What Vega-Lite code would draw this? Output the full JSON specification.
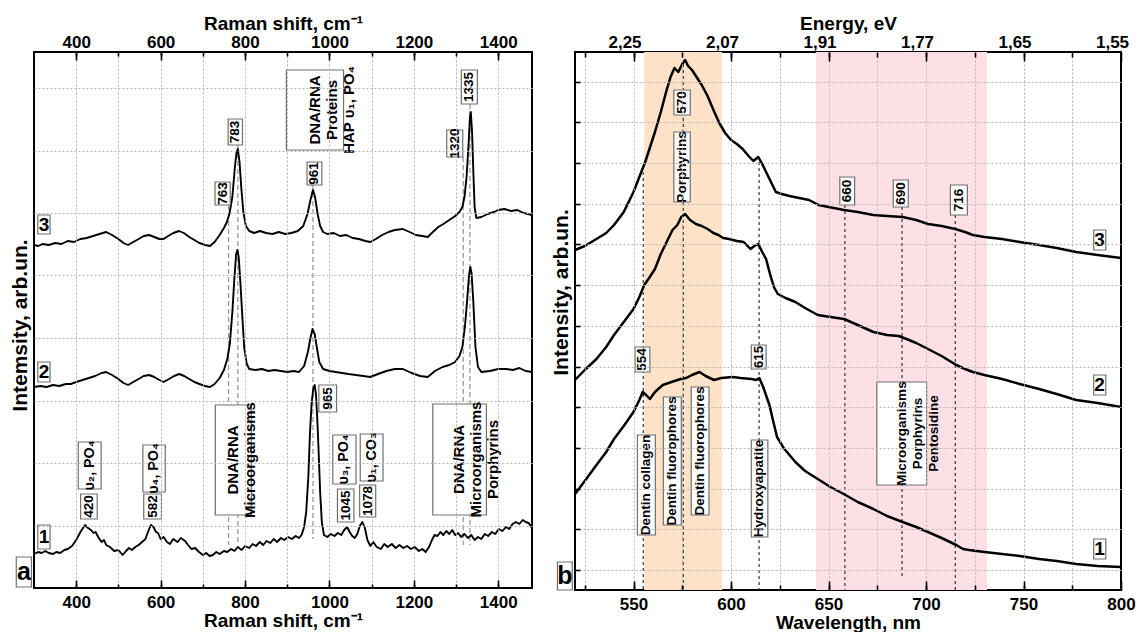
{
  "$schema": "https://vega.github.io/schema/vega-lite/v6.json",
  "background": "white",
  "padding": {"left": 7, "top": 13, "right": 5, "bottom": 0},
  "autosize": {"type": "pad"},
  "config": {
    "font": "Liberation Sans",
    "view": {"stroke": "black", "strokeWidth": 2},
    "axis": {
      "labelFont": "Liberation Sans", "labelFontWeight": "bold", "labelFontSize": 17, "labelColor": "black",
      "titleFont": "Liberation Sans", "titleFontWeight": "bold", "titleFontSize": 19, "titleColor": "black",
      "tickColor": "black", "tickWidth": 1.6, "domain": false, "labelOverlap": false, "labelFlush": false,
      "gridColor": "#b5b5b5", "gridDash": [2, 2], "gridWidth": 1
    },
    "text": {"font": "Liberation Sans", "fontWeight": "bold", "color": "black"}
  },
  "datasets": {
    "ramanCurves": [
      {"shift":300,"intensity":343,"spectrum":"3"},{"shift":310,"intensity":342,"spectrum":"3"},{"shift":320,"intensity":344,"spectrum":"3"},{"shift":335,"intensity":343,"spectrum":"3"},{"shift":350,"intensity":345,"spectrum":"3"},{"shift":365,"intensity":344,"spectrum":"3"},{"shift":380,"intensity":347,"spectrum":"3"},{"shift":395,"intensity":346,"spectrum":"3"},{"shift":410,"intensity":349,"spectrum":"3"},{"shift":425,"intensity":350,"spectrum":"3"},{"shift":440,"intensity":352,"spectrum":"3"},{"shift":455,"intensity":354,"spectrum":"3"},{"shift":471,"intensity":356,"spectrum":"3"},{"shift":485,"intensity":353,"spectrum":"3"},{"shift":500,"intensity":349,"spectrum":"3"},{"shift":512,"intensity":345,"spectrum":"3"},{"shift":523,"intensity":343,"spectrum":"3"},{"shift":535,"intensity":346,"spectrum":"3"},{"shift":548,"intensity":349,"spectrum":"3"},{"shift":560,"intensity":352,"spectrum":"3"},{"shift":573,"intensity":353,"spectrum":"3"},{"shift":585,"intensity":351,"spectrum":"3"},{"shift":597,"intensity":349,"spectrum":"3"},{"shift":607,"intensity":349,"spectrum":"3"},{"shift":618,"intensity":352,"spectrum":"3"},{"shift":630,"intensity":355,"spectrum":"3"},{"shift":644,"intensity":357,"spectrum":"3"},{"shift":655,"intensity":355,"spectrum":"3"},{"shift":668,"intensity":351,"spectrum":"3"},{"shift":680,"intensity":348,"spectrum":"3"},{"shift":692,"intensity":345,"spectrum":"3"},{"shift":705,"intensity":343,"spectrum":"3"},{"shift":717,"intensity":342,"spectrum":"3"},{"shift":728,"intensity":346,"spectrum":"3"},{"shift":740,"intensity":353,"spectrum":"3"},{"shift":750,"intensity":360,"spectrum":"3"},{"shift":757,"intensity":366,"spectrum":"3"},{"shift":763,"intensity":374,"spectrum":"3"},{"shift":770,"intensity":391,"spectrum":"3"},{"shift":776,"intensity":421,"spectrum":"3"},{"shift":780,"intensity":436,"spectrum":"3"},{"shift":783,"intensity":439,"spectrum":"3"},{"shift":787,"intensity":426,"spectrum":"3"},{"shift":791,"intensity":401,"spectrum":"3"},{"shift":796,"intensity":376,"spectrum":"3"},{"shift":802,"intensity":362,"spectrum":"3"},{"shift":810,"intensity":357,"spectrum":"3"},{"shift":822,"intensity":355,"spectrum":"3"},{"shift":835,"intensity":357,"spectrum":"3"},{"shift":850,"intensity":355,"spectrum":"3"},{"shift":865,"intensity":354,"spectrum":"3"},{"shift":880,"intensity":356,"spectrum":"3"},{"shift":895,"intensity":354,"spectrum":"3"},{"shift":910,"intensity":355,"spectrum":"3"},{"shift":925,"intensity":357,"spectrum":"3"},{"shift":938,"intensity":362,"spectrum":"3"},{"shift":948,"intensity":374,"spectrum":"3"},{"shift":955,"intensity":388,"spectrum":"3"},{"shift":961,"intensity":398,"spectrum":"3"},{"shift":966,"intensity":391,"spectrum":"3"},{"shift":972,"intensity":374,"spectrum":"3"},{"shift":978,"intensity":362,"spectrum":"3"},{"shift":985,"intensity":356,"spectrum":"3"},{"shift":995,"intensity":354,"spectrum":"3"},{"shift":1010,"intensity":355,"spectrum":"3"},{"shift":1025,"intensity":352,"spectrum":"3"},{"shift":1040,"intensity":353,"spectrum":"3"},{"shift":1055,"intensity":350,"spectrum":"3"},{"shift":1070,"intensity":349,"spectrum":"3"},{"shift":1085,"intensity":347,"spectrum":"3"},{"shift":1097,"intensity":346,"spectrum":"3"},{"shift":1110,"intensity":349,"spectrum":"3"},{"shift":1125,"intensity":353,"spectrum":"3"},{"shift":1140,"intensity":356,"spectrum":"3"},{"shift":1155,"intensity":358,"spectrum":"3"},{"shift":1174,"intensity":359,"spectrum":"3"},{"shift":1190,"intensity":356,"spectrum":"3"},{"shift":1205,"intensity":353,"spectrum":"3"},{"shift":1220,"intensity":352,"spectrum":"3"},{"shift":1233,"intensity":351,"spectrum":"3"},{"shift":1245,"intensity":356,"spectrum":"3"},{"shift":1258,"intensity":361,"spectrum":"3"},{"shift":1270,"intensity":364,"spectrum":"3"},{"shift":1284,"intensity":368,"spectrum":"3"},{"shift":1298,"intensity":372,"spectrum":"3"},{"shift":1308,"intensity":376,"spectrum":"3"},{"shift":1315,"intensity":381,"spectrum":"3"},{"shift":1320,"intensity":391,"spectrum":"3"},{"shift":1325,"intensity":411,"spectrum":"3"},{"shift":1330,"intensity":446,"spectrum":"3"},{"shift":1333,"intensity":471,"spectrum":"3"},{"shift":1335,"intensity":476,"spectrum":"3"},{"shift":1338,"intensity":456,"spectrum":"3"},{"shift":1341,"intensity":416,"spectrum":"3"},{"shift":1344,"intensity":381,"spectrum":"3"},{"shift":1348,"intensity":370,"spectrum":"3"},{"shift":1360,"intensity":371,"spectrum":"3"},{"shift":1375,"intensity":374,"spectrum":"3"},{"shift":1390,"intensity":376,"spectrum":"3"},{"shift":1400,"intensity":378,"spectrum":"3"},{"shift":1415,"intensity":379,"spectrum":"3"},{"shift":1430,"intensity":377,"spectrum":"3"},{"shift":1445,"intensity":378,"spectrum":"3"},{"shift":1460,"intensity":375,"spectrum":"3"},{"shift":1470,"intensity":374,"spectrum":"3"},{"shift":1480,"intensity":373,"spectrum":"3"},
      {"shift":300,"intensity":201,"spectrum":"2"},{"shift":315,"intensity":202,"spectrum":"2"},{"shift":330,"intensity":201,"spectrum":"2"},{"shift":345,"intensity":203,"spectrum":"2"},{"shift":360,"intensity":202,"spectrum":"2"},{"shift":375,"intensity":204,"spectrum":"2"},{"shift":387,"intensity":204,"spectrum":"2"},{"shift":400,"intensity":206,"spectrum":"2"},{"shift":415,"intensity":208,"spectrum":"2"},{"shift":430,"intensity":210,"spectrum":"2"},{"shift":445,"intensity":212,"spectrum":"2"},{"shift":460,"intensity":215,"spectrum":"2"},{"shift":471,"intensity":216,"spectrum":"2"},{"shift":485,"intensity":213,"spectrum":"2"},{"shift":500,"intensity":209,"spectrum":"2"},{"shift":512,"intensity":205,"spectrum":"2"},{"shift":523,"intensity":203,"spectrum":"2"},{"shift":535,"intensity":206,"spectrum":"2"},{"shift":548,"intensity":209,"spectrum":"2"},{"shift":560,"intensity":212,"spectrum":"2"},{"shift":573,"intensity":213,"spectrum":"2"},{"shift":585,"intensity":211,"spectrum":"2"},{"shift":597,"intensity":208,"spectrum":"2"},{"shift":607,"intensity":206,"spectrum":"2"},{"shift":620,"intensity":209,"spectrum":"2"},{"shift":632,"intensity":212,"spectrum":"2"},{"shift":644,"intensity":214,"spectrum":"2"},{"shift":656,"intensity":212,"spectrum":"2"},{"shift":668,"intensity":209,"spectrum":"2"},{"shift":680,"intensity":206,"spectrum":"2"},{"shift":692,"intensity":204,"spectrum":"2"},{"shift":705,"intensity":202,"spectrum":"2"},{"shift":717,"intensity":201,"spectrum":"2"},{"shift":728,"intensity":204,"spectrum":"2"},{"shift":740,"intensity":210,"spectrum":"2"},{"shift":750,"intensity":218,"spectrum":"2"},{"shift":758,"intensity":229,"spectrum":"2"},{"shift":764,"intensity":244,"spectrum":"2"},{"shift":770,"intensity":276,"spectrum":"2"},{"shift":775,"intensity":311,"spectrum":"2"},{"shift":779,"intensity":334,"spectrum":"2"},{"shift":782,"intensity":338,"spectrum":"2"},{"shift":785,"intensity":331,"spectrum":"2"},{"shift":789,"intensity":306,"spectrum":"2"},{"shift":793,"intensity":276,"spectrum":"2"},{"shift":798,"intensity":241,"spectrum":"2"},{"shift":804,"intensity":224,"spectrum":"2"},{"shift":810,"intensity":219,"spectrum":"2"},{"shift":825,"intensity":218,"spectrum":"2"},{"shift":840,"intensity":219,"spectrum":"2"},{"shift":855,"intensity":217,"spectrum":"2"},{"shift":870,"intensity":218,"spectrum":"2"},{"shift":885,"intensity":217,"spectrum":"2"},{"shift":900,"intensity":216,"spectrum":"2"},{"shift":915,"intensity":217,"spectrum":"2"},{"shift":928,"intensity":216,"spectrum":"2"},{"shift":940,"intensity":222,"spectrum":"2"},{"shift":949,"intensity":236,"spectrum":"2"},{"shift":955,"intensity":250,"spectrum":"2"},{"shift":960,"intensity":259,"spectrum":"2"},{"shift":965,"intensity":254,"spectrum":"2"},{"shift":970,"intensity":241,"spectrum":"2"},{"shift":976,"intensity":226,"spectrum":"2"},{"shift":985,"intensity":219,"spectrum":"2"},{"shift":1000,"intensity":217,"spectrum":"2"},{"shift":1015,"intensity":216,"spectrum":"2"},{"shift":1030,"intensity":215,"spectrum":"2"},{"shift":1045,"intensity":214,"spectrum":"2"},{"shift":1063,"intensity":213,"spectrum":"2"},{"shift":1080,"intensity":212,"spectrum":"2"},{"shift":1097,"intensity":211,"spectrum":"2"},{"shift":1115,"intensity":214,"spectrum":"2"},{"shift":1135,"intensity":217,"spectrum":"2"},{"shift":1155,"intensity":219,"spectrum":"2"},{"shift":1174,"intensity":219,"spectrum":"2"},{"shift":1195,"intensity":215,"spectrum":"2"},{"shift":1215,"intensity":212,"spectrum":"2"},{"shift":1233,"intensity":211,"spectrum":"2"},{"shift":1250,"intensity":217,"spectrum":"2"},{"shift":1268,"intensity":221,"spectrum":"2"},{"shift":1284,"intensity":223,"spectrum":"2"},{"shift":1298,"intensity":226,"spectrum":"2"},{"shift":1308,"intensity":232,"spectrum":"2"},{"shift":1315,"intensity":241,"spectrum":"2"},{"shift":1321,"intensity":261,"spectrum":"2"},{"shift":1326,"intensity":286,"spectrum":"2"},{"shift":1331,"intensity":314,"spectrum":"2"},{"shift":1334,"intensity":321,"spectrum":"2"},{"shift":1337,"intensity":314,"spectrum":"2"},{"shift":1341,"intensity":286,"spectrum":"2"},{"shift":1346,"intensity":241,"spectrum":"2"},{"shift":1352,"intensity":221,"spectrum":"2"},{"shift":1360,"intensity":216,"spectrum":"2"},{"shift":1380,"intensity":217,"spectrum":"2"},{"shift":1400,"intensity":219,"spectrum":"2"},{"shift":1418,"intensity":219,"spectrum":"2"},{"shift":1435,"intensity":218,"spectrum":"2"},{"shift":1450,"intensity":220,"spectrum":"2"},{"shift":1465,"intensity":217,"spectrum":"2"},{"shift":1480,"intensity":216,"spectrum":"2"},
      {"shift":300,"intensity":34,"spectrum":"1"},{"shift":310,"intensity":36,"spectrum":"1"},{"shift":318,"intensity":35,"spectrum":"1"},{"shift":327,"intensity":37,"spectrum":"1"},{"shift":335,"intensity":35,"spectrum":"1"},{"shift":345,"intensity":34,"spectrum":"1"},{"shift":353,"intensity":36,"spectrum":"1"},{"shift":362,"intensity":35,"spectrum":"1"},{"shift":372,"intensity":38,"spectrum":"1"},{"shift":380,"intensity":39,"spectrum":"1"},{"shift":390,"intensity":42,"spectrum":"1"},{"shift":400,"intensity":48,"spectrum":"1"},{"shift":410,"intensity":56,"spectrum":"1"},{"shift":416,"intensity":60,"spectrum":"1"},{"shift":421,"intensity":63,"spectrum":"1"},{"shift":428,"intensity":60,"spectrum":"1"},{"shift":435,"intensity":58,"spectrum":"1"},{"shift":441,"intensity":55,"spectrum":"1"},{"shift":446,"intensity":56,"spectrum":"1"},{"shift":452,"intensity":51,"spectrum":"1"},{"shift":460,"intensity":46,"spectrum":"1"},{"shift":466,"intensity":48,"spectrum":"1"},{"shift":471,"intensity":43,"spectrum":"1"},{"shift":480,"intensity":41,"spectrum":"1"},{"shift":490,"intensity":37,"spectrum":"1"},{"shift":500,"intensity":38,"spectrum":"1"},{"shift":510,"intensity":33,"spectrum":"1"},{"shift":518,"intensity":37,"spectrum":"1"},{"shift":525,"intensity":40,"spectrum":"1"},{"shift":532,"intensity":38,"spectrum":"1"},{"shift":540,"intensity":41,"spectrum":"1"},{"shift":548,"intensity":43,"spectrum":"1"},{"shift":556,"intensity":46,"spectrum":"1"},{"shift":564,"intensity":49,"spectrum":"1"},{"shift":570,"intensity":56,"spectrum":"1"},{"shift":577,"intensity":63,"spectrum":"1"},{"shift":583,"intensity":61,"spectrum":"1"},{"shift":589,"intensity":56,"spectrum":"1"},{"shift":594,"intensity":55,"spectrum":"1"},{"shift":600,"intensity":49,"spectrum":"1"},{"shift":607,"intensity":51,"spectrum":"1"},{"shift":615,"intensity":46,"spectrum":"1"},{"shift":622,"intensity":44,"spectrum":"1"},{"shift":630,"intensity":49,"spectrum":"1"},{"shift":640,"intensity":46,"spectrum":"1"},{"shift":648,"intensity":50,"spectrum":"1"},{"shift":658,"intensity":47,"spectrum":"1"},{"shift":665,"intensity":43,"spectrum":"1"},{"shift":673,"intensity":39,"spectrum":"1"},{"shift":682,"intensity":40,"spectrum":"1"},{"shift":691,"intensity":36,"spectrum":"1"},{"shift":700,"intensity":33,"spectrum":"1"},{"shift":708,"intensity":35,"spectrum":"1"},{"shift":716,"intensity":32,"spectrum":"1"},{"shift":724,"intensity":33,"spectrum":"1"},{"shift":732,"intensity":36,"spectrum":"1"},{"shift":740,"intensity":34,"spectrum":"1"},{"shift":750,"intensity":37,"spectrum":"1"},{"shift":758,"intensity":36,"spectrum":"1"},{"shift":767,"intensity":39,"spectrum":"1"},{"shift":775,"intensity":37,"spectrum":"1"},{"shift":783,"intensity":41,"spectrum":"1"},{"shift":792,"intensity":38,"spectrum":"1"},{"shift":800,"intensity":42,"spectrum":"1"},{"shift":810,"intensity":40,"spectrum":"1"},{"shift":818,"intensity":44,"spectrum":"1"},{"shift":826,"intensity":42,"spectrum":"1"},{"shift":835,"intensity":46,"spectrum":"1"},{"shift":843,"intensity":43,"spectrum":"1"},{"shift":851,"intensity":47,"spectrum":"1"},{"shift":860,"intensity":45,"spectrum":"1"},{"shift":868,"intensity":49,"spectrum":"1"},{"shift":876,"intensity":46,"spectrum":"1"},{"shift":885,"intensity":50,"spectrum":"1"},{"shift":893,"intensity":48,"spectrum":"1"},{"shift":902,"intensity":51,"spectrum":"1"},{"shift":911,"intensity":49,"spectrum":"1"},{"shift":920,"intensity":52,"spectrum":"1"},{"shift":928,"intensity":50,"spectrum":"1"},{"shift":934,"intensity":53,"spectrum":"1"},{"shift":940,"intensity":61,"spectrum":"1"},{"shift":945,"intensity":76,"spectrum":"1"},{"shift":950,"intensity":111,"spectrum":"1"},{"shift":954,"intensity":156,"spectrum":"1"},{"shift":958,"intensity":186,"spectrum":"1"},{"shift":962,"intensity":200,"spectrum":"1"},{"shift":965,"intensity":203,"spectrum":"1"},{"shift":968,"intensity":194,"spectrum":"1"},{"shift":971,"intensity":171,"spectrum":"1"},{"shift":974,"intensity":141,"spectrum":"1"},{"shift":978,"intensity":96,"spectrum":"1"},{"shift":982,"intensity":66,"spectrum":"1"},{"shift":987,"intensity":53,"spectrum":"1"},{"shift":995,"intensity":51,"spectrum":"1"},{"shift":1003,"intensity":54,"spectrum":"1"},{"shift":1012,"intensity":52,"spectrum":"1"},{"shift":1020,"intensity":55,"spectrum":"1"},{"shift":1028,"intensity":53,"spectrum":"1"},{"shift":1035,"intensity":58,"spectrum":"1"},{"shift":1042,"intensity":61,"spectrum":"1"},{"shift":1048,"intensity":56,"spectrum":"1"},{"shift":1054,"intensity":52,"spectrum":"1"},{"shift":1060,"intensity":50,"spectrum":"1"},{"shift":1066,"intensity":54,"spectrum":"1"},{"shift":1072,"intensity":62,"spectrum":"1"},{"shift":1078,"intensity":66,"spectrum":"1"},{"shift":1084,"intensity":60,"spectrum":"1"},{"shift":1090,"intensity":48,"spectrum":"1"},{"shift":1097,"intensity":42,"spectrum":"1"},{"shift":1104,"intensity":46,"spectrum":"1"},{"shift":1112,"intensity":41,"spectrum":"1"},{"shift":1122,"intensity":39,"spectrum":"1"},{"shift":1130,"intensity":44,"spectrum":"1"},{"shift":1138,"intensity":41,"spectrum":"1"},{"shift":1148,"intensity":44,"spectrum":"1"},{"shift":1157,"intensity":40,"spectrum":"1"},{"shift":1166,"intensity":43,"spectrum":"1"},{"shift":1175,"intensity":40,"spectrum":"1"},{"shift":1184,"intensity":42,"spectrum":"1"},{"shift":1193,"intensity":39,"spectrum":"1"},{"shift":1202,"intensity":41,"spectrum":"1"},{"shift":1212,"intensity":37,"spectrum":"1"},{"shift":1220,"intensity":39,"spectrum":"1"},{"shift":1228,"intensity":36,"spectrum":"1"},{"shift":1236,"intensity":41,"spectrum":"1"},{"shift":1243,"intensity":48,"spectrum":"1"},{"shift":1249,"intensity":53,"spectrum":"1"},{"shift":1256,"intensity":52,"spectrum":"1"},{"shift":1263,"intensity":56,"spectrum":"1"},{"shift":1270,"intensity":53,"spectrum":"1"},{"shift":1277,"intensity":57,"spectrum":"1"},{"shift":1284,"intensity":54,"spectrum":"1"},{"shift":1291,"intensity":58,"spectrum":"1"},{"shift":1298,"intensity":53,"spectrum":"1"},{"shift":1305,"intensity":55,"spectrum":"1"},{"shift":1312,"intensity":51,"spectrum":"1"},{"shift":1320,"intensity":54,"spectrum":"1"},{"shift":1328,"intensity":50,"spectrum":"1"},{"shift":1336,"intensity":53,"spectrum":"1"},{"shift":1344,"intensity":48,"spectrum":"1"},{"shift":1352,"intensity":51,"spectrum":"1"},{"shift":1360,"intensity":49,"spectrum":"1"},{"shift":1368,"intensity":54,"spectrum":"1"},{"shift":1376,"intensity":52,"spectrum":"1"},{"shift":1385,"intensity":56,"spectrum":"1"},{"shift":1393,"intensity":54,"spectrum":"1"},{"shift":1401,"intensity":59,"spectrum":"1"},{"shift":1410,"intensity":57,"spectrum":"1"},{"shift":1418,"intensity":61,"spectrum":"1"},{"shift":1426,"intensity":59,"spectrum":"1"},{"shift":1434,"intensity":64,"spectrum":"1"},{"shift":1442,"intensity":66,"spectrum":"1"},{"shift":1450,"intensity":64,"spectrum":"1"},{"shift":1458,"intensity":68,"spectrum":"1"},{"shift":1465,"intensity":66,"spectrum":"1"},{"shift":1472,"intensity":65,"spectrum":"1"},{"shift":1480,"intensity":60,"spectrum":"1"}
    ],
    "ramanMarkers": [
      {"shift":761,"top":383,"bottom":43},{"shift":783,"top":443,"bottom":43},{"shift":961,"top":403,"bottom":49},{"shift":1317,"top":431,"bottom":43},{"shift":1333,"top":484,"bottom":43}
    ],
    "ramanTags": [
      {"text":"763","kind":"peak","cx":747,"cy":394.5,"x1":729,"x2":765,"y1":383,"y2":406},
      {"text":"783","kind":"peak","cx":777,"cy":456,"x1":760,"x2":794,"y1":443,"y2":469},
      {"text":"961","kind":"peak","cx":964.5,"cy":414.5,"x1":947,"x2":982,"y1":403,"y2":426},
      {"text":"1320","kind":"peak","cx":1297,"cy":444.5,"x1":1278,"x2":1316,"y1":431,"y2":458},
      {"text":"1335","kind":"peak","cx":1331.5,"cy":501,"x1":1312.5,"x2":1350.6,"y1":484,"y2":518},
      {"text":"DNA/RNA\nProteins\nHAP υ₁, PO₄","kind":"assignment","cx":965.7,"cy":478,"x1":898,"x2":1033.5,"y1":438,"y2":518},
      {"text":"965","kind":"peak","cx":996,"cy":189.5,"x1":975,"x2":1017,"y1":176,"y2":203},
      {"text":"420","kind":"peak","cx":430,"cy":81.5,"x1":410.5,"x2":449.8,"y1":69,"y2":94},
      {"text":"υ₂, PO₄","kind":"mode","cx":432,"cy":122.5,"x1":405,"x2":459,"y1":99,"y2":146},
      {"text":"582","kind":"peak","cx":581,"cy":81.5,"x1":560,"x2":602,"y1":69,"y2":94},
      {"text":"υ₄, PO₄","kind":"mode","cx":584.5,"cy":119.5,"x1":558,"x2":611,"y1":96,"y2":143},
      {"text":"DNA/RNA\nMicroorganisms","kind":"assignment","cx":772,"cy":128,"x1":729.6,"x2":814.9,"y1":73,"y2":183},
      {"text":"1045","kind":"peak","cx":1038.5,"cy":82.5,"x1":1019,"x2":1058,"y1":66,"y2":99},
      {"text":"υ₃, PO₄","kind":"mode","cx":1035.5,"cy":128.5,"x1":1008,"x2":1063,"y1":104,"y2":153},
      {"text":"1078","kind":"peak","cx":1090.6,"cy":87,"x1":1071.6,"x2":1109.7,"y1":71,"y2":103},
      {"text":"υ₁, CO₃","kind":"mode","cx":1100,"cy":130.5,"x1":1073,"x2":1127,"y1":107,"y2":154},
      {"text":"DNA/RNA\nMicroorganisms\nPorphyrins","kind":"assignment","cx":1308,"cy":128.5,"x1":1245,"x2":1372,"y1":73,"y2":184}
    ],
    "ramanFlat": [
      {"text":"3","kind":"curve","cx":323.5,"cy":363.5,"x1":309,"x2":338,"y1":354,"y2":373},
      {"text":"2","kind":"curve","cx":323.5,"cy":216,"x1":309,"x2":338,"y1":206,"y2":226},
      {"text":"1","kind":"curve","cx":323.5,"cy":51,"x1":309,"x2":338,"y1":39,"y2":63},
      {"text":"a","kind":"panel","cx":276,"cy":16,"x1":258,"x2":294,"y1":1,"y2":31}
    ],
    "fluoCurves": [
      {"wavelength":520,"intensity":340,"spectrum":"3"},{"wavelength":525,"intensity":344,"spectrum":"3"},{"wavelength":531,"intensity":351,"spectrum":"3"},{"wavelength":536,"intensity":357,"spectrum":"3"},{"wavelength":540,"intensity":365,"spectrum":"3"},{"wavelength":545,"intensity":378,"spectrum":"3"},{"wavelength":550,"intensity":398,"spectrum":"3"},{"wavelength":553,"intensity":413,"spectrum":"3"},{"wavelength":556,"intensity":428,"spectrum":"3"},{"wavelength":559,"intensity":446,"spectrum":"3"},{"wavelength":561,"intensity":458,"spectrum":"3"},{"wavelength":564,"intensity":478,"spectrum":"3"},{"wavelength":567,"intensity":500,"spectrum":"3"},{"wavelength":569,"intensity":513,"spectrum":"3"},{"wavelength":571,"intensity":522,"spectrum":"3"},{"wavelength":573,"intensity":518,"spectrum":"3"},{"wavelength":575,"intensity":526,"spectrum":"3"},{"wavelength":576.5,"intensity":530,"spectrum":"3"},{"wavelength":578,"intensity":524,"spectrum":"3"},{"wavelength":580,"intensity":520,"spectrum":"3"},{"wavelength":582,"intensity":514,"spectrum":"3"},{"wavelength":585,"intensity":505,"spectrum":"3"},{"wavelength":588,"intensity":494,"spectrum":"3"},{"wavelength":591,"intensity":480,"spectrum":"3"},{"wavelength":594,"intensity":467,"spectrum":"3"},{"wavelength":597,"intensity":457,"spectrum":"3"},{"wavelength":600,"intensity":450,"spectrum":"3"},{"wavelength":603,"intensity":446,"spectrum":"3"},{"wavelength":606,"intensity":441,"spectrum":"3"},{"wavelength":609,"intensity":434,"spectrum":"3"},{"wavelength":611.5,"intensity":429,"spectrum":"3"},{"wavelength":614,"intensity":433,"spectrum":"3"},{"wavelength":616,"intensity":426,"spectrum":"3"},{"wavelength":618,"intensity":418,"spectrum":"3"},{"wavelength":620.5,"intensity":408,"spectrum":"3"},{"wavelength":623,"intensity":398,"spectrum":"3"},{"wavelength":626,"intensity":396,"spectrum":"3"},{"wavelength":630,"intensity":394,"spectrum":"3"},{"wavelength":635,"intensity":392,"spectrum":"3"},{"wavelength":640,"intensity":390,"spectrum":"3"},{"wavelength":645,"intensity":385,"spectrum":"3"},{"wavelength":650,"intensity":383,"spectrum":"3"},{"wavelength":658,"intensity":380,"spectrum":"3"},{"wavelength":665,"intensity":378,"spectrum":"3"},{"wavelength":673,"intensity":375,"spectrum":"3"},{"wavelength":680,"intensity":374,"spectrum":"3"},{"wavelength":688,"intensity":373,"spectrum":"3"},{"wavelength":695,"intensity":370,"spectrum":"3"},{"wavelength":701,"intensity":366,"spectrum":"3"},{"wavelength":708,"intensity":364,"spectrum":"3"},{"wavelength":715,"intensity":361,"spectrum":"3"},{"wavelength":720,"intensity":358,"spectrum":"3"},{"wavelength":724,"intensity":355,"spectrum":"3"},{"wavelength":730,"intensity":353,"spectrum":"3"},{"wavelength":739,"intensity":351,"spectrum":"3"},{"wavelength":748,"intensity":348,"spectrum":"3"},{"wavelength":758,"intensity":345,"spectrum":"3"},{"wavelength":767,"intensity":342,"spectrum":"3"},{"wavelength":777,"intensity":338,"spectrum":"3"},{"wavelength":788,"intensity":335,"spectrum":"3"},{"wavelength":800,"intensity":332,"spectrum":"3"},
      {"wavelength":520,"intensity":210,"spectrum":"2"},{"wavelength":525,"intensity":220,"spectrum":"2"},{"wavelength":531,"intensity":231,"spectrum":"2"},{"wavelength":536,"intensity":243,"spectrum":"2"},{"wavelength":540,"intensity":255,"spectrum":"2"},{"wavelength":545,"intensity":268,"spectrum":"2"},{"wavelength":550,"intensity":281,"spectrum":"2"},{"wavelength":553,"intensity":293,"spectrum":"2"},{"wavelength":555.5,"intensity":305,"spectrum":"2"},{"wavelength":558,"intensity":312,"spectrum":"2"},{"wavelength":561,"intensity":321,"spectrum":"2"},{"wavelength":564,"intensity":336,"spectrum":"2"},{"wavelength":567,"intensity":348,"spectrum":"2"},{"wavelength":570,"intensity":360,"spectrum":"2"},{"wavelength":572.5,"intensity":365,"spectrum":"2"},{"wavelength":574.5,"intensity":373,"spectrum":"2"},{"wavelength":576.5,"intensity":376,"spectrum":"2"},{"wavelength":579,"intensity":370,"spectrum":"2"},{"wavelength":582,"intensity":366,"spectrum":"2"},{"wavelength":585,"intensity":364,"spectrum":"2"},{"wavelength":588,"intensity":361,"spectrum":"2"},{"wavelength":591,"intensity":357,"spectrum":"2"},{"wavelength":593.5,"intensity":355,"spectrum":"2"},{"wavelength":596,"intensity":352,"spectrum":"2"},{"wavelength":599,"intensity":351,"spectrum":"2"},{"wavelength":603,"intensity":349,"spectrum":"2"},{"wavelength":606.5,"intensity":348,"spectrum":"2"},{"wavelength":610,"intensity":341,"spectrum":"2"},{"wavelength":612,"intensity":344,"spectrum":"2"},{"wavelength":614,"intensity":346,"spectrum":"2"},{"wavelength":616,"intensity":338,"spectrum":"2"},{"wavelength":618,"intensity":331,"spectrum":"2"},{"wavelength":620,"intensity":316,"spectrum":"2"},{"wavelength":622,"intensity":303,"spectrum":"2"},{"wavelength":624,"intensity":296,"spectrum":"2"},{"wavelength":628,"intensity":292,"spectrum":"2"},{"wavelength":633,"intensity":288,"spectrum":"2"},{"wavelength":638,"intensity":282,"spectrum":"2"},{"wavelength":644.5,"intensity":275,"spectrum":"2"},{"wavelength":651,"intensity":273,"spectrum":"2"},{"wavelength":658,"intensity":271,"spectrum":"2"},{"wavelength":665,"intensity":265,"spectrum":"2"},{"wavelength":673,"intensity":258,"spectrum":"2"},{"wavelength":680,"intensity":255,"spectrum":"2"},{"wavelength":686,"intensity":254,"spectrum":"2"},{"wavelength":690,"intensity":251,"spectrum":"2"},{"wavelength":695,"intensity":247,"spectrum":"2"},{"wavelength":701,"intensity":241,"spectrum":"2"},{"wavelength":708,"intensity":234,"spectrum":"2"},{"wavelength":715.5,"intensity":225,"spectrum":"2"},{"wavelength":720,"intensity":221,"spectrum":"2"},{"wavelength":724,"intensity":218,"spectrum":"2"},{"wavelength":730,"intensity":215,"spectrum":"2"},{"wavelength":739,"intensity":211,"spectrum":"2"},{"wavelength":748,"intensity":206,"spectrum":"2"},{"wavelength":758,"intensity":201,"spectrum":"2"},{"wavelength":767,"intensity":196,"spectrum":"2"},{"wavelength":777,"intensity":190,"spectrum":"2"},{"wavelength":788,"intensity":187,"spectrum":"2"},{"wavelength":800,"intensity":183,"spectrum":"2"},
      {"wavelength":520,"intensity":96,"spectrum":"1"},{"wavelength":525,"intensity":109,"spectrum":"1"},{"wavelength":531,"intensity":125,"spectrum":"1"},{"wavelength":536,"intensity":138,"spectrum":"1"},{"wavelength":540,"intensity":151,"spectrum":"1"},{"wavelength":545,"intensity":164,"spectrum":"1"},{"wavelength":550,"intensity":178,"spectrum":"1"},{"wavelength":553,"intensity":190,"spectrum":"1"},{"wavelength":554.7,"intensity":198,"spectrum":"1"},{"wavelength":556.5,"intensity":195,"spectrum":"1"},{"wavelength":558.4,"intensity":191,"spectrum":"1"},{"wavelength":561,"intensity":198,"spectrum":"1"},{"wavelength":565,"intensity":205,"spectrum":"1"},{"wavelength":568,"intensity":207,"spectrum":"1"},{"wavelength":571,"intensity":209,"spectrum":"1"},{"wavelength":574.3,"intensity":211,"spectrum":"1"},{"wavelength":577,"intensity":212,"spectrum":"1"},{"wavelength":580,"intensity":215,"spectrum":"1"},{"wavelength":583.8,"intensity":218,"spectrum":"1"},{"wavelength":587,"intensity":214,"spectrum":"1"},{"wavelength":591.3,"intensity":210,"spectrum":"1"},{"wavelength":595,"intensity":212,"spectrum":"1"},{"wavelength":600.8,"intensity":213,"spectrum":"1"},{"wavelength":605,"intensity":212,"spectrum":"1"},{"wavelength":610.4,"intensity":211,"spectrum":"1"},{"wavelength":613,"intensity":210,"spectrum":"1"},{"wavelength":614.5,"intensity":212,"spectrum":"1"},{"wavelength":616.5,"intensity":203,"spectrum":"1"},{"wavelength":619.7,"intensity":185,"spectrum":"1"},{"wavelength":621.5,"intensity":170,"spectrum":"1"},{"wavelength":623.6,"intensity":153,"spectrum":"1"},{"wavelength":627,"intensity":142,"spectrum":"1"},{"wavelength":633,"intensity":128,"spectrum":"1"},{"wavelength":638,"intensity":119,"spectrum":"1"},{"wavelength":644.5,"intensity":111,"spectrum":"1"},{"wavelength":651,"intensity":103,"spectrum":"1"},{"wavelength":657.8,"intensity":96,"spectrum":"1"},{"wavelength":665,"intensity":88,"spectrum":"1"},{"wavelength":673,"intensity":81,"spectrum":"1"},{"wavelength":680,"intensity":74,"spectrum":"1"},{"wavelength":688,"intensity":68,"spectrum":"1"},{"wavelength":695,"intensity":63,"spectrum":"1"},{"wavelength":701,"intensity":58,"spectrum":"1"},{"wavelength":708,"intensity":52,"spectrum":"1"},{"wavelength":715.5,"intensity":45,"spectrum":"1"},{"wavelength":719,"intensity":41,"spectrum":"1"},{"wavelength":722,"intensity":40,"spectrum":"1"},{"wavelength":730,"intensity":38,"spectrum":"1"},{"wavelength":739,"intensity":36,"spectrum":"1"},{"wavelength":748,"intensity":34,"spectrum":"1"},{"wavelength":758,"intensity":31,"spectrum":"1"},{"wavelength":767,"intensity":29,"spectrum":"1"},{"wavelength":777,"intensity":26,"spectrum":"1"},{"wavelength":788,"intensity":24,"spectrum":"1"},{"wavelength":800,"intensity":23,"spectrum":"1"}
    ],
    "fluoBands": [
      {"start":555.5,"end":595.5,"band":"dentin"},
      {"start":643.5,"end":731.3,"band":"microbial"}
    ],
    "fluoMarkers": [
      {"wavelength":555,"top":418,"bottom":0},{"wavelength":575.5,"top":526,"bottom":0},{"wavelength":614.4,"top":428,"bottom":0},{"wavelength":658.4,"top":385,"bottom":0},{"wavelength":687.7,"top":383,"bottom":11},{"wavelength":715,"top":375,"bottom":0}
    ],
    "fluoTags": [
      {"text":"570","cx":575,"cy":487.5,"x1":570.7,"x2":579.1,"y1":475,"y2":500},
      {"text":"Porphyrins","cx":575,"cy":423,"x1":570.7,"x2":579.1,"y1":388,"y2":458},
      {"text":"554","cx":554.6,"cy":230.5,"x1":550.8,"x2":558.4,"y1":218,"y2":243},
      {"text":"615","cx":614.2,"cy":233,"x1":610.4,"x2":618,"y1":221,"y2":245},
      {"text":"660","cx":659.6,"cy":399,"x1":655.8,"x2":663.4,"y1":385,"y2":413},
      {"text":"690","cx":687,"cy":396.5,"x1":683.2,"x2":690.9,"y1":383,"y2":410},
      {"text":"716","cx":716.9,"cy":390,"x1":712.5,"x2":721.2,"y1":375,"y2":405},
      {"text":"Dentin collagen","cx":556.6,"cy":105,"x1":552,"x2":561.2,"y1":55,"y2":155},
      {"text":"Dentin fluorophores","cx":569.9,"cy":129,"x1":565.3,"x2":574.5,"y1":65,"y2":193},
      {"text":"Dentin fluorophores","cx":584.2,"cy":139,"x1":579.6,"x2":588.7,"y1":75,"y2":203},
      {"text":"Hydroxyapatite","cx":614.6,"cy":101.5,"x1":610.4,"x2":618.9,"y1":53,"y2":150},
      {"text":"Microorganisms\nPorphyrins\nPentosidine","cx":687.5,"cy":156.5,"x1":674.8,"x2":700.3,"y1":105,"y2":208}
    ],
    "fluoFlat": [
      {"text":"3","kind":"curve","cx":789,"cy":350,"x1":786,"x2":792.2,"y1":340,"y2":360},
      {"text":"2","kind":"curve","cx":789,"cy":205,"x1":786,"x2":792.2,"y1":195,"y2":215},
      {"text":"1","kind":"curve","cx":789,"cy":41,"x1":786,"x2":792.2,"y1":31,"y2":51},
      {"text":"b","kind":"panel","cx":514.8,"cy":14,"x1":511,"x2":518.6,"y1":0,"y2":28}
    ]
  },
  "spacing": 43,
  "bounds": "flush",
  "hconcat": [
    {
      "width": 498,
      "height": 536,
      "resolve": {"axis": {"x": "independent", "y": "independent"}, "scale": {"size": "independent"}},
      "layer": [
        {
          "data": {"name": "ramanMarkers"},
          "mark": {"type": "rule", "color": "#9a9a9a", "strokeWidth": 1.3, "strokeDash": [5, 3]},
          "encoding": {
            "x": {"field": "shift", "type": "quantitative", "scale": {"domain": [300, 1480], "nice": false, "zero": false},
              "axis": {"orient": "bottom", "values": [400, 500, 600, 700, 800, 900, 1000, 1100, 1200, 1300, 1400], "tickSize": -4, "labels": false, "title": null, "grid": true, "zindex": 1}},
            "y": {"field": "top", "type": "quantitative", "scale": {"domain": [0, 536], "nice": false, "zero": false},
              "axis": {"orient": "left", "values": [62.5, 125, 187.5, 250, 312.5, 375, 437.5, 500], "ticks": false, "labels": false, "grid": true, "title": "Intemsity, arb.un.", "titleFontSize": 21, "titleX": -4, "titleY": 273, "titleAngle": 270, "titleBaseline": "bottom", "titleAlign": "center", "zindex": 1}},
            "y2": {"field": "bottom"}
          }
        },
        {
          "data": {"name": "ramanCurves"},
          "mark": {"type": "line", "color": "black", "strokeWidth": 1.9, "strokeJoin": "round"},
          "encoding": {
            "x": {"field": "shift", "type": "quantitative", "scale": {"domain": [300, 1480], "nice": false, "zero": false},
              "axis": {"orient": "bottom", "values": [400, 600, 800, 1000, 1200, 1400], "format": "d", "tickSize": -8, "labelPadding": 14, "title": "Raman shift, cm⁻¹", "titlePadding": 1, "grid": false, "zindex": 1}},
            "y": {"field": "intensity", "type": "quantitative", "scale": {"domain": [0, 536], "nice": false, "zero": false}, "axis": null},
            "detail": {"field": "spectrum", "type": "nominal"}
          }
        },
        {
          "data": {"name": "ramanTags"},
          "mark": {"type": "rect", "fill": "white", "stroke": "#707070", "strokeWidth": 1.2},
          "encoding": {
            "x": {"field": "x1", "type": "quantitative", "scale": {"domain": [300, 1480], "nice": false, "zero": false},
              "axis": {"orient": "top", "values": [400, 600, 800, 1000, 1200, 1400], "format": "d", "tickSize": -8, "labelPadding": 9, "title": "Raman shift, cm⁻¹", "titlePadding": 0, "grid": false, "zindex": 1}},
            "x2": {"field": "x2"},
            "y": {"field": "y1", "type": "quantitative", "scale": {"domain": [0, 536], "nice": false, "zero": false}, "axis": null},
            "y2": {"field": "y2"}
          }
        },
        {
          "data": {"name": "ramanTags"},
          "mark": {"type": "text", "angle": 270, "align": "center", "baseline": "middle", "lineBreak": "\n", "lineHeight": 17, "font": "Liberation Sans", "fontWeight": "bold", "color": "black"},
          "encoding": {
            "x": {"field": "cx", "type": "quantitative", "scale": {"domain": [300, 1480], "nice": false, "zero": false},
              "axis": {"orient": "top", "values": [400, 500, 600, 700, 800, 900, 1000, 1100, 1200, 1300, 1400], "tickSize": -4, "labels": false, "title": null, "grid": false, "zindex": 1}},
            "y": {"field": "cy", "type": "quantitative", "scale": {"domain": [0, 536], "nice": false, "zero": false}, "axis": null},
            "text": {"field": "text", "type": "nominal"},
            "size": {"field": "kind", "type": "nominal", "scale": {"domain": ["peak", "mode", "assignment"], "range": [13.5, 15, 14]}, "legend": null}
          }
        },
        {
          "data": {"name": "ramanFlat"},
          "mark": {"type": "rect", "fill": "white", "stroke": "#707070", "strokeWidth": 1.2},
          "encoding": {
            "x": {"field": "x1", "type": "quantitative", "scale": {"domain": [300, 1480], "nice": false, "zero": false}, "axis": null},
            "x2": {"field": "x2"},
            "y": {"field": "y1", "type": "quantitative", "scale": {"domain": [0, 536], "nice": false, "zero": false}, "axis": null},
            "y2": {"field": "y2"}
          }
        },
        {
          "data": {"name": "ramanFlat"},
          "mark": {"type": "text", "align": "center", "baseline": "middle", "font": "Liberation Sans", "fontWeight": "bold", "color": "black"},
          "encoding": {
            "x": {"field": "cx", "type": "quantitative", "scale": {"domain": [300, 1480], "nice": false, "zero": false}, "axis": null},
            "y": {"field": "cy", "type": "quantitative", "scale": {"domain": [0, 536], "nice": false, "zero": false}, "axis": null},
            "text": {"field": "text", "type": "nominal"},
            "size": {"field": "kind", "type": "nominal", "scale": {"domain": ["curve", "panel"], "range": [19, 25]}, "legend": null}
          }
        }
      ]
    },
    {
      "width": 546,
      "height": 538,
      "resolve": {"axis": {"x": "independent", "y": "independent"}, "scale": {"size": "independent"}},
      "layer": [
        {
          "data": {"name": "fluoBands"},
          "mark": {"type": "rect"},
          "encoding": {
            "x": {"field": "start", "type": "quantitative", "scale": {"domain": [520, 800], "nice": false, "zero": false},
              "axis": {"orient": "bottom", "values": [525, 550, 575, 600, 625, 650, 675, 700, 725, 750, 775], "tickSize": -5, "labels": false, "title": null, "grid": true, "zindex": 1}},
            "x2": {"field": "end"},
            "color": {"field": "band", "type": "nominal", "scale": {"domain": ["dentin", "microbial"], "range": ["#fde2c8", "#fde0e5"]}, "legend": null}
          }
        },
        {
          "data": {"name": "fluoMarkers"},
          "mark": {"type": "rule", "color": "#333333", "strokeWidth": 1.2, "strokeDash": [3, 3]},
          "encoding": {
            "x": {"field": "wavelength", "type": "quantitative", "scale": {"domain": [520, 800], "nice": false, "zero": false},
              "axis": {"orient": "top", "values": [525, 550, 575, 600, 625, 650, 675, 700, 725, 750, 775], "tickSize": -5, "labels": false, "title": null, "grid": false, "zindex": 1}},
            "y": {"field": "top", "type": "quantitative", "scale": {"domain": [0, 538], "nice": false, "zero": false},
              "axis": {"orient": "left", "values": [20, 60.7, 101.4, 142.1, 182.8, 223.5, 264.2, 304.9, 345.6, 386.3, 427, 467.7, 508.4], "tickSize": -5, "labels": false, "grid": true, "title": "Intensity, arb.un.", "titleFontSize": 21, "titleX": -4, "titleY": 240, "titleAngle": 270, "titleBaseline": "bottom", "titleAlign": "center", "zindex": 1}},
            "y2": {"field": "bottom"}
          }
        },
        {
          "data": {"name": "fluoCurves"},
          "mark": {"type": "line", "color": "black", "strokeWidth": 2.5, "strokeJoin": "round"},
          "encoding": {
            "x": {"field": "wavelength", "type": "quantitative", "scale": {"domain": [520, 800], "nice": false, "zero": false},
              "axis": {"orient": "bottom", "values": [550, 600, 650, 700, 750, 800], "tickSize": -9, "labelPadding": 15, "title": "Wavelength, nm", "titlePadding": 1, "grid": false, "zindex": 1}},
            "y": {"field": "intensity", "type": "quantitative", "scale": {"domain": [0, 538], "nice": false, "zero": false}, "axis": null},
            "detail": {"field": "spectrum", "type": "nominal"}
          }
        },
        {
          "data": {"name": "fluoTags"},
          "mark": {"type": "rect", "fill": "white", "stroke": "#707070", "strokeWidth": 1.2},
          "encoding": {
            "x": {"field": "x1", "type": "quantitative", "scale": {"domain": [520, 800], "nice": false, "zero": false},
              "axis": {"orient": "top", "values": [550, 600, 650, 700, 750, 800], "tickSize": -9, "labelPadding": 10, "labelOffset": -9, "labelExpr": "replace(format(1239.84 / datum.value, '.2f'), '.', ',')", "title": "Energy, eV", "titlePadding": 0, "grid": false, "zindex": 1}},
            "x2": {"field": "x2"},
            "y": {"field": "y1", "type": "quantitative", "scale": {"domain": [0, 538], "nice": false, "zero": false}, "axis": null},
            "y2": {"field": "y2"}
          }
        },
        {
          "data": {"name": "fluoTags"},
          "mark": {"type": "text", "angle": 270, "align": "center", "baseline": "middle", "lineBreak": "\n", "lineHeight": 16, "font": "Liberation Sans", "fontWeight": "bold", "fontSize": 13.5, "color": "black"},
          "encoding": {
            "x": {"field": "cx", "type": "quantitative", "scale": {"domain": [520, 800], "nice": false, "zero": false}, "axis": null},
            "y": {"field": "cy", "type": "quantitative", "scale": {"domain": [0, 538], "nice": false, "zero": false}, "axis": null},
            "text": {"field": "text", "type": "nominal"}
          }
        },
        {
          "data": {"name": "fluoFlat"},
          "mark": {"type": "rect", "fill": "white", "stroke": "#707070", "strokeWidth": 1.2},
          "encoding": {
            "x": {"field": "x1", "type": "quantitative", "scale": {"domain": [520, 800], "nice": false, "zero": false}, "axis": null},
            "x2": {"field": "x2"},
            "y": {"field": "y1", "type": "quantitative", "scale": {"domain": [0, 538], "nice": false, "zero": false}, "axis": null},
            "y2": {"field": "y2"}
          }
        },
        {
          "data": {"name": "fluoFlat"},
          "mark": {"type": "text", "align": "center", "baseline": "middle", "font": "Liberation Sans", "fontWeight": "bold", "color": "black"},
          "encoding": {
            "x": {"field": "cx", "type": "quantitative", "scale": {"domain": [520, 800], "nice": false, "zero": false}, "axis": null},
            "y": {"field": "cy", "type": "quantitative", "scale": {"domain": [0, 538], "nice": false, "zero": false}, "axis": null},
            "text": {"field": "text", "type": "nominal"},
            "size": {"field": "kind", "type": "nominal", "scale": {"domain": ["curve", "panel"], "range": [19, 25]}, "legend": null}
          }
        }
      ]
    }
  ]
}
